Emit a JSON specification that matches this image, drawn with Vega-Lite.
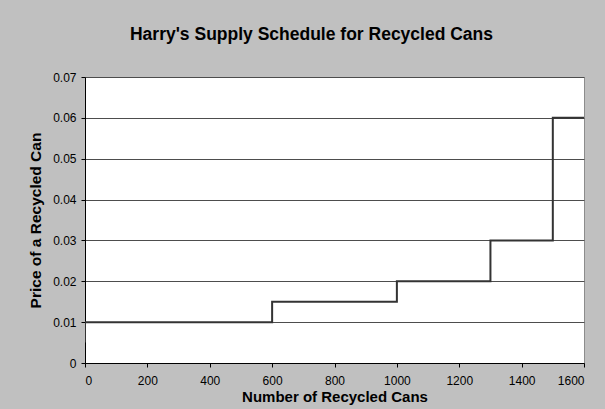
{
  "$schema": "https://vega.github.io/schema/vega-lite/v6.json",
  "autosize": {"type": "none"},
  "width": 499,
  "height": 286,
  "padding": {"left": 85, "top": 77, "right": 21, "bottom": 46},
  "background": "#c0c0c0",
  "title": {
    "text": "Harry's Supply Schedule for Recycled Cans",
    "font": "Liberation Sans",
    "fontSize": 17.5,
    "fontWeight": "bold",
    "color": "#000000",
    "anchor": "middle",
    "baseline": "bottom",
    "offset": 10,
    "dx": -23
  },
  "data": {
    "values": [
      {"order": 1, "cans": 0, "price": 0.005},
      {"order": 2, "cans": 0, "price": 0.01},
      {"order": 3, "cans": 600, "price": 0.01},
      {"order": 4, "cans": 600, "price": 0.015},
      {"order": 5, "cans": 1000, "price": 0.015},
      {"order": 6, "cans": 1000, "price": 0.02},
      {"order": 7, "cans": 1300, "price": 0.02},
      {"order": 8, "cans": 1300, "price": 0.03},
      {"order": 9, "cans": 1500, "price": 0.03},
      {"order": 10, "cans": 1500, "price": 0.06},
      {"order": 11, "cans": 1600, "price": 0.06}
    ]
  },
  "mark": {"type": "line", "color": "#333333", "strokeWidth": 2, "clip": true},
  "encoding": {
    "x": {
      "field": "cans",
      "type": "quantitative",
      "scale": {"domain": [0, 1600], "nice": false, "zero": true},
      "axis": {
        "title": "Number of Recycled Cans",
        "values": [0, 200, 400, 600, 800, 1000, 1200, 1400, 1600],
        "format": "d",
        "grid": false,
        "domainColor": "#000000",
        "tickColor": "#000000",
        "tickSize": 4,
        "labelPadding": 8,
        "labelFont": "Liberation Sans",
        "labelFontSize": 12,
        "labelColor": "#000000",
        "titleFont": "Liberation Sans",
        "titleFontSize": 15,
        "titleFontWeight": "bold",
        "titleColor": "#000000",
        "titlePadding": 3
      }
    },
    "y": {
      "field": "price",
      "type": "quantitative",
      "scale": {"domain": [0, 0.07], "nice": false},
      "axis": {
        "title": "Price of a Recycled Can",
        "values": [0, 0.01, 0.02, 0.03, 0.04, 0.05, 0.06, 0.07],
        "labelExpr": "datum.value == 0 ? '0' : format(datum.value, '.2f')",
        "grid": true,
        "gridColor": "#4d4d4d",
        "gridWidth": 1,
        "gridOpacity": 1,
        "domainColor": "#000000",
        "tickColor": "#000000",
        "tickSize": 4,
        "labelPadding": 5,
        "labelFont": "Liberation Sans",
        "labelFontSize": 12,
        "labelColor": "#000000",
        "titleFont": "Liberation Sans",
        "titleFontSize": 15.5,
        "titleFontWeight": "bold",
        "titleColor": "#000000",
        "titlePadding": 9
      }
    },
    "order": {"field": "order", "type": "quantitative"}
  },
  "config": {
    "view": {"fill": "#ffffff", "stroke": "#8c8c8c", "strokeWidth": 1}
  }
}
